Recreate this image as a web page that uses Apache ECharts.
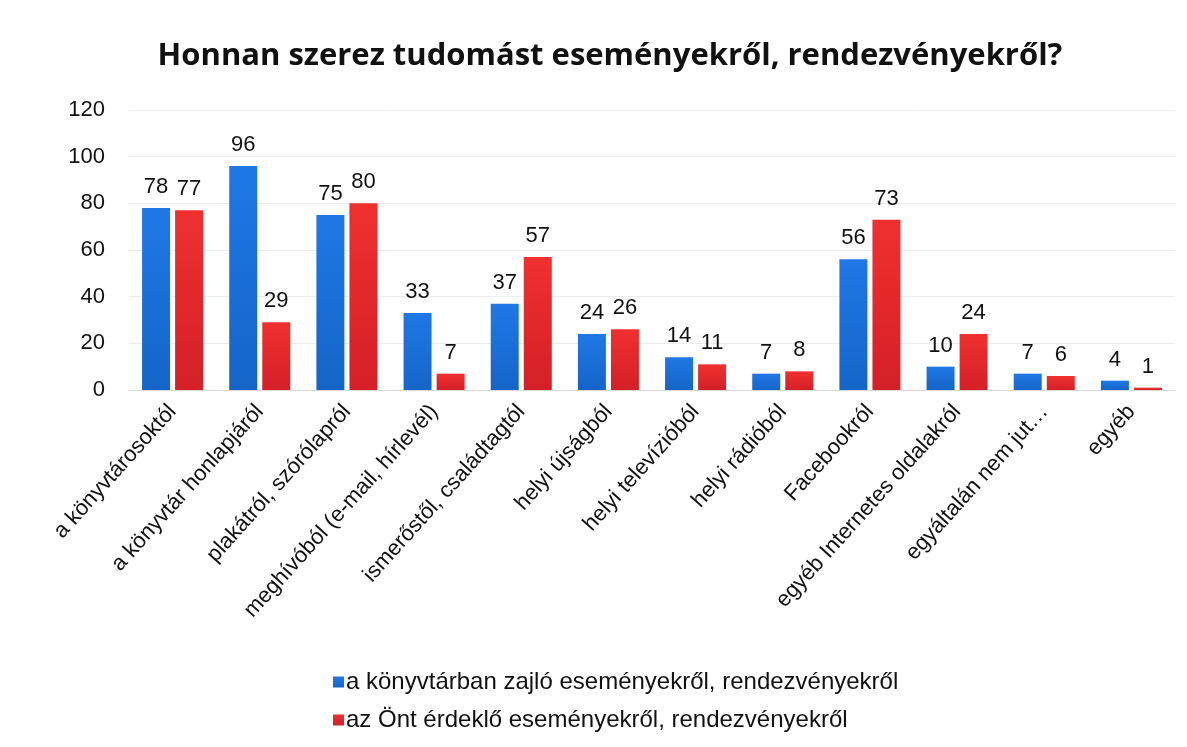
<!DOCTYPE html>
<html>
<head>
<meta charset="utf-8">
<script src="https://cdn.jsdelivr.net/npm/echarts@6/dist/echarts.min.js"></script>
<style>
  html, body { margin: 0; padding: 0; background: #fff; }
  #chart { width: 1187px; height: 747px; }
</style>
</head>
<body>
<div id="chart"></div>
<script>
const categories = [
  'a könyvtárosoktól',
  'a könyvtár honlapjáról',
  'plakátról, szórólapról',
  'meghívóból (e-mail, hírlevél)',
  'ismerőstől, családtagtól',
  'helyi újságból',
  'helyi televízióból',
  'helyi rádióból',
  'Facebookról',
  'egyéb Internetes oldalakról',
  'egyáltalán nem jut…',
  'egyéb'
];
const libraryEvents = [78, 96, 75, 33, 37, 24, 14, 7, 56, 10, 7, 4];
const interestEvents = [77, 29, 80, 7, 57, 26, 11, 8, 73, 24, 6, 1];
const seriesNames = [
  'a könyvtárban zajló eseményekről, rendezvényekről',
  'az Önt érdeklő eseményekről, rendezvényekről'
];

const chart = echarts.init(document.getElementById('chart'));

const grad = (top, bottom) => ({
  type: 'linear', x: 0, y: 0, x2: 0, y2: 1,
  colorStops: [{ offset: 0, color: top }, { offset: 1, color: bottom }]
});

const labelStyle = {
  show: true,
  position: 'top',
  distance: 10,
  color: '#111',
  fontFamily: 'Liberation Sans, Arial, sans-serif',
  fontSize: 22
};

chart.setOption({
  animation: false,
  title: {
    text: 'Honnan szerez tudomást eseményekről, rendezvényekről?',
    left: 605,
    textAlign: 'center',
    top: 36,
    textStyle: {
      fontFamily: 'Open Sans, sans-serif',
      fontWeight: 'bold',
      fontSize: 31,
      color: '#111'
    }
  },
  legend: {
    orient: 'vertical',
    left: 328,
    top: 665,
    itemWidth: 11,
    itemHeight: 11,
    itemGap: 14,
    icon: 'rect',
    textStyle: {
      fontFamily: 'Liberation Sans, Arial, sans-serif',
      fontSize: 24,
      color: '#111',
      padding: [0, 0, 0, -3]
    },
    data: seriesNames
  },
  grid: {
    left: 129,
    right: 12,
    top: 110,
    bottom: 357,
    containLabel: false
  },
  xAxis: {
    type: 'category',
    data: categories,
    axisLine: { show: true, lineStyle: { color: '#d9d9d9' } },
    axisTick: { show: false },
    axisLabel: {
      interval: 0,
      rotate: 48,
      margin: 18,
      color: '#111',
      fontFamily: 'Liberation Sans, Arial, sans-serif',
      fontSize: 22
    }
  },
  yAxis: {
    type: 'value',
    min: 0,
    max: 120,
    interval: 20,
    axisLine: { show: false },
    axisTick: { show: false },
    splitLine: { lineStyle: { color: '#ececec' } },
    axisLabel: {
      margin: 24,
      color: '#111',
      fontFamily: 'Liberation Sans, Arial, sans-serif',
      fontSize: 22
    }
  },
  series: [
    {
      name: seriesNames[0],
      type: 'bar',
      data: libraryEvents,
      barWidth: 28,
      barGap: '18%',
      itemStyle: { color: grad('#1f78e6', '#1565c8') },
      label: labelStyle
    },
    {
      name: seriesNames[1],
      type: 'bar',
      data: interestEvents,
      barWidth: 28,
      itemStyle: { color: grad('#f0302f', '#d42027') },
      label: labelStyle
    }
  ]
});
</script>
</body>
</html>
